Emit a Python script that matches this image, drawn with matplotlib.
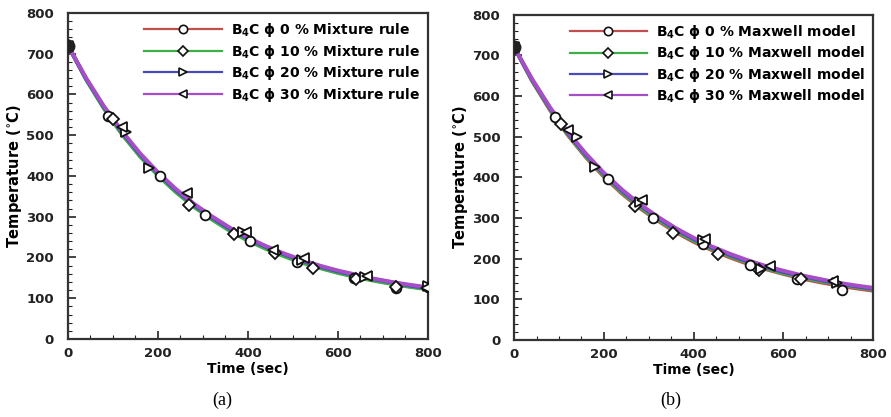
import numpy as np
import matplotlib.pyplot as plt
from matplotlib.lines import Line2D
from matplotlib.ticker import MultipleLocator

# cooling curves, sampled every 40 s
time_s = [0, 40, 80, 120, 160, 200, 240, 280, 320, 360, 400,
          440, 480, 520, 560, 600, 640, 680, 720, 760, 800]

mix_0 = [720, 638, 567, 504, 450, 403, 362, 326, 295, 267, 243,
         223, 205, 189, 175, 164, 153, 144, 136, 129, 123]
mix_10 = [720, 637, 565, 502, 448, 401, 360, 324, 293, 265, 241,
          221, 203, 187, 174, 162, 152, 143, 135, 128, 122]
mix_20 = [720, 639, 569, 507, 453, 406, 365, 329, 298, 270, 246,
          226, 208, 192, 178, 166, 156, 147, 139, 131, 125]
mix_30 = [720, 641, 571, 510, 456, 409, 368, 332, 301, 273, 249,
          228, 210, 194, 180, 168, 158, 148, 140, 133, 127]

max_0 = [720, 637, 565, 503, 449, 401, 360, 324, 293, 265, 241,
         221, 203, 187, 174, 162, 151, 142, 134, 127, 121]
max_10 = [720, 638, 567, 505, 451, 404, 363, 327, 296, 268, 244,
          224, 206, 190, 176, 164, 154, 145, 137, 130, 124]
max_20 = [720, 640, 570, 508, 455, 408, 367, 331, 300, 272, 248,
          227, 209, 193, 179, 167, 157, 148, 139, 132, 126]
max_30 = [720, 642, 572, 511, 458, 411, 370, 334, 303, 275, 251,
          230, 212, 196, 182, 170, 159, 150, 141, 134, 128]

# measured points shown as open markers
mix_pts = {
    "0":  ([0, 90, 205, 305, 405, 510, 635, 730, 800],
           [720, 548, 400, 305, 240, 190, 150, 125, 128]),
    "10": ([0, 100, 270, 370, 460, 545, 640, 730],
           [720, 540, 330, 258, 210, 175, 148, 128]),
    "20": ([0, 130, 180, 390, 520, 660, 800],
           [720, 508, 420, 262, 195, 152, 130]),
    "30": ([0, 120, 265, 395, 455, 525, 665, 795],
           [720, 520, 358, 262, 218, 198, 155, 125]),
}
max_pts = {
    "0":  ([0, 90, 210, 310, 420, 525, 630, 730],
           [720, 548, 395, 300, 235, 185, 150, 122]),
    "10": ([0, 105, 270, 355, 455, 545, 640],
           [720, 530, 330, 262, 210, 172, 150]),
    "20": ([0, 140, 180, 280, 420, 550, 720],
           [720, 500, 425, 340, 245, 175, 140]),
    "30": ([0, 120, 285, 425, 570, 710],
           [720, 515, 345, 248, 182, 145]),
}

fractions = ["0", "10", "20", "30"]
colors = ["#c0504d", "#3fae49", "#4a4ab8", "#a64ec8"]
markers = ["o", "D", ">", "<"]
msizes = [7, 6, 7, 7]

plt.rcParams["font.family"] = ["DejaVu Sans"]
plt.rcParams["font.weight"] = "bold"
plt.rcParams["mathtext.default"] = "bf"

fig = plt.figure(figsize=(8.91, 4.17), dpi=100)
ax_a = fig.add_axes([0.0763, 0.187, 0.404, 0.782])
ax_b = fig.add_axes([0.577, 0.185, 0.403, 0.780])


def draw_panel(ax, curves, pts, model):
    for frac, y, c, m, ms in zip(fractions, curves, colors, markers, msizes):
        ax.plot(time_s, y, color=c, lw=2.8, zorder=2)
        px, py = pts[frac]
        ax.plot(px, py, ls="none", marker=m, ms=ms, mec="#111111",
                mfc="white", mew=1.3, zorder=3)
    ax.plot([0], [720], "o", ms=9, color="#222222", zorder=4)

    ax.set_xlim(0, 800)
    ax.set_ylim(0, 800)
    ax.xaxis.set_major_locator(MultipleLocator(200))
    ax.xaxis.set_minor_locator(MultipleLocator(50))
    ax.yaxis.set_major_locator(MultipleLocator(100))
    ax.yaxis.set_minor_locator(MultipleLocator(20))
    ax.tick_params(which="both", direction="in", top=False, right=False,
                   labelsize=9.5, colors="#222222")
    ax.tick_params(which="major", length=6, width=1.2)
    ax.tick_params(which="minor", length=3, width=0.8)
    ax.tick_params(axis="y", which="major", pad=10)
    ax.tick_params(axis="x", which="major", pad=6)
    for lab in ax.get_xticklabels() + ax.get_yticklabels():
        lab.set_fontweight("bold")
    for sp in ax.spines.values():
        sp.set_linewidth(1.6)
        sp.set_color("#333333")
    ax.set_xlabel("Time (sec)", fontsize=10, fontweight="bold", labelpad=1)
    ax.set_ylabel("Temperature ($^{\\circ}$C)", fontsize=10.5,
                  fontweight="bold", labelpad=2)

    handles = [Line2D([0], [0], color=c, lw=1.6, marker=m, ms=ms - 1,
                      mec="#111111", mfc="white", mew=1.2)
               for c, m, ms in zip(colors, markers, msizes)]
    labels = ["B$_4$C ϕ %s %% %s" % (f, model) for f in fractions]
    ax.legend(handles, labels, loc="upper right", frameon=False,
              handlelength=5.6, handletextpad=0.6, labelspacing=0.25,
              borderaxespad=0.2, numpoints=1,
              prop={"size": 10, "weight": "bold"})


draw_panel(ax_a, [mix_0, mix_10, mix_20, mix_30], mix_pts, "Mixture rule")
draw_panel(ax_b, [max_0, max_10, max_20, max_30], max_pts, "Maxwell model")

fig.text(0.249, 0.04, "(a)", ha="center", va="center", fontsize=13,
         family="Liberation Serif", weight="normal")
fig.text(0.753, 0.04, "(b)", ha="center", va="center", fontsize=13,
         family="Liberation Serif", weight="normal")

fig.savefig("out.png", dpi=100)
